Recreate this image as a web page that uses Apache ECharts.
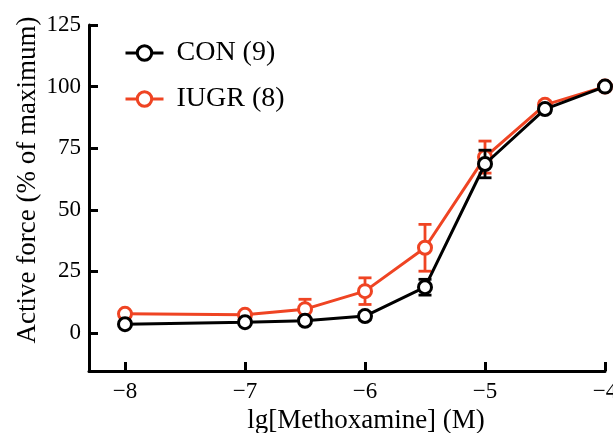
<!DOCTYPE html>
<html>
<head>
<meta charset="utf-8">
<script src="https://cdn.jsdelivr.net/npm/echarts@6/dist/echarts.min.js"></script>
<style>html,body{margin:0;padding:0;background:#fff}#c{width:613px;height:433px}</style>
</head>
<body>
<div id="c"></div>
<script>
var xValues = [-8, -7, -6.5, -6, -5.5, -5, -4.5, -4];
var conMean = [3.6, 4.4, 5.0, 6.9, 18.6, 68.6, 90.9, 100];
var conErr  = [0.8, 0.8, 1.0, 1.5, 3.2, 5.6, 1.5, 0];
var iugrMean = [7.8, 7.4, 9.7, 17.0, 34.6, 71.4, 92.6, 100];
var iugrErr  = [1.0, 1.0, 4.0, 5.4, 9.5, 6.5, 1.5, 0];
var xTicks = [-8, -7, -6, -5, -4];
var yTicks = [0, 25, 50, 75, 100, 125];
var seriesNames = ['CON (9)', 'IUGR (8)'];
var colors = ['#000000', '#EF4423'];

var FONT = 'Liberation Serif';
function pairs(m) { return xValues.map(function (x, i) { return [x, m[i]]; }); }
function errData(m, e) { return xValues.map(function (x, i) { return [x, m[i] - e[i], m[i] + e[i]]; }); }
function errSeries(name, m, e, color, z) {
  return {
    type: 'custom', name: name, z: z, silent: true,
    data: errData(m, e),
    encode: { x: 0, y: [1, 2] },
    renderItem: function (params, api) {
      var lo = api.coord([api.value(0), api.value(1)]);
      var hi = api.coord([api.value(0), api.value(2)]);
      var hw = 6.5;
      var st = { stroke: color, lineWidth: 2.8, fill: null };
      return { type: 'group', children: [
        { type: 'line', shape: { x1: lo[0], y1: lo[1], x2: hi[0], y2: hi[1] }, style: st },
        { type: 'line', shape: { x1: hi[0] - hw, y1: hi[1], x2: hi[0] + hw, y2: hi[1] }, style: st },
        { type: 'line', shape: { x1: lo[0] - hw, y1: lo[1], x2: lo[0] + hw, y2: lo[1] }, style: st }
      ]};
    }
  };
}
function lineSeries(name, m, color, z) {
  return {
    type: 'line', name: name, z: z, data: pairs(m), color: color,
    symbol: 'circle', symbolSize: 13, showSymbol: true,
    lineStyle: { color: color, width: 3 },
    itemStyle: { color: '#ffffff', borderColor: color, borderWidth: 3 },
    emphasis: { disabled: true }
  };
}
var chart = echarts.init(document.getElementById('c'), null, { renderer: 'canvas' });
chart.setOption({
  animation: false,
  backgroundColor: '#fff',
  textStyle: { fontFamily: FONT },
  grid: { left: 89, right: 8, top: 25, bottom: 62, containLabel: false, outerBoundsMode: 'none' },
  legend: {
    data: seriesNames, orient: 'vertical', left: 119, top: 31,
    itemWidth: 38, itemHeight: 18, itemGap: 12,
    lineStyle: { width: 3 },
    itemStyle: { borderWidth: 3 },
    textStyle: { fontFamily: FONT, fontSize: 28, color: '#000', lineHeight: 34, padding: [0, 0, 0, 8] }
  },
  xAxis: {
    type: 'value', min: -8.3, max: -4,
    axisLine: { show: true, lineStyle: { color: '#000', width: 3 }, onZero: false },
    axisTick: { show: true, inside: true, length: 9, lineStyle: { color: '#000', width: 3 }, customValues: xTicks },
    axisLabel: { customValues: xTicks, fontFamily: FONT, fontSize: 23, color: '#000', margin: 9,
      formatter: function (v) { return String(v).replace('-', '\u2212'); } },
    splitLine: { show: false },
    name: 'lg[Methoxamine] (M)', nameLocation: 'middle', nameGap: 32,
    nameTextStyle: { fontFamily: FONT, fontSize: 27, color: '#000', padding: [0, 0, 0, 38] }
  },
  yAxis: {
    type: 'value', min: -15.4, max: 125,
    axisLine: { show: true, lineStyle: { color: '#000', width: 3 }, onZero: false },
    axisTick: { show: true, inside: true, length: 9, lineStyle: { color: '#000', width: 3 }, customValues: yTicks },
    axisLabel: { customValues: yTicks, fontFamily: FONT, fontSize: 23, color: '#000', margin: 8 },
    splitLine: { show: false }
  },
  graphic: [{
    type: 'text', rotation: Math.PI / 2, x: 28, y: 180,
    style: { text: 'Active force (% of maximum)', fontFamily: FONT, fontSize: 27, fill: '#000',
      align: 'center', verticalAlign: 'middle' }
  }],
  series: [
    errSeries('IUGR err', iugrMean, iugrErr, colors[1], 1),
    lineSeries('IUGR (8)', iugrMean, colors[1], 2),
    errSeries('CON err', conMean, conErr, colors[0], 3),
    lineSeries('CON (9)', conMean, colors[0], 4)
  ]
});
</script>
</body>
</html>
